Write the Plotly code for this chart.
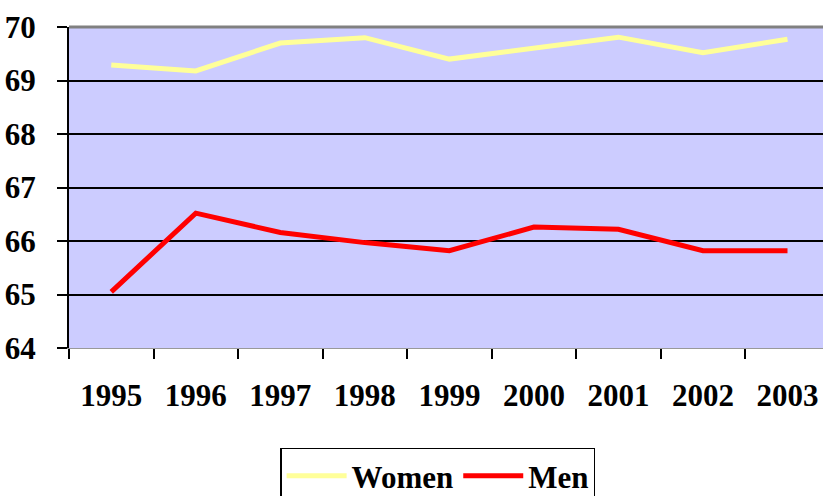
import plotly.graph_objects as go

years = ["1995", "1996", "1997", "1998", "1999", "2000", "2001", "2002", "2003"]
women = [69.29, 69.18, 69.70, 69.80, 69.40, 69.60, 69.81, 69.52, 69.77]
men = [65.05, 66.52, 66.16, 65.97, 65.82, 66.26, 66.22, 65.82, 65.82]
y_ticks = [64, 65, 66, 67, 68, 69, 70]

FS = 31
tf = dict(family="Liberation Serif, Times New Roman, serif", size=FS, color="black", weight="bold")

fig = go.Figure()
fig.add_trace(go.Scatter(x=years, y=women, mode="lines", name="Women",
                         line=dict(color="#FFFF99", width=5)))
fig.add_trace(go.Scatter(x=years, y=men, mode="lines", name="Men",
                         line=dict(color="#FF0000", width=5)))

fig.update_layout(
    width=823, height=496,
    margin=dict(l=69, r=0, t=27, b=148, autoexpand=False),
    paper_bgcolor="white",
    plot_bgcolor="#CCCCFF",
    font=tf,
    showlegend=True,
    legend=dict(orientation="h", x=0.28, xanchor="left", y=-0.31, yanchor="top",
                bordercolor="black", borderwidth=1.5, bgcolor="white",
                font=tf, itemwidth=60, tracegroupgap=0),
    xaxis=dict(type="category", tickson="boundaries", ticks="outside", ticklen=10,
               tickwidth=2, tickcolor="black", showgrid=False, automargin=False,
               range=[-0.5, 8.42], showline=True, linecolor="#999999", linewidth=1,
               tickfont=tf, ticklabelstandoff=20, fixedrange=True),
    yaxis=dict(range=[64, 70], tickvals=y_ticks, ticks="outside", ticklen=10,
               tickwidth=2, tickcolor="black", showgrid=True, gridcolor="black",
               gridwidth=1.5, showline=True, linecolor="black", linewidth=2,
               zeroline=False, automargin=False,
               tickfont=tf, ticklabelstandoff=15, fixedrange=True),
)
fig.add_shape(type="line", xref="paper", yref="paper", x0=0, x1=1, y0=1, y1=1,
              line=dict(color="#808080", width=3))
fig.write_html("out.html", config={"displayModeBar": False},
               post_script="document.body.style.margin='0px';document.body.style.overflow='hidden';")
